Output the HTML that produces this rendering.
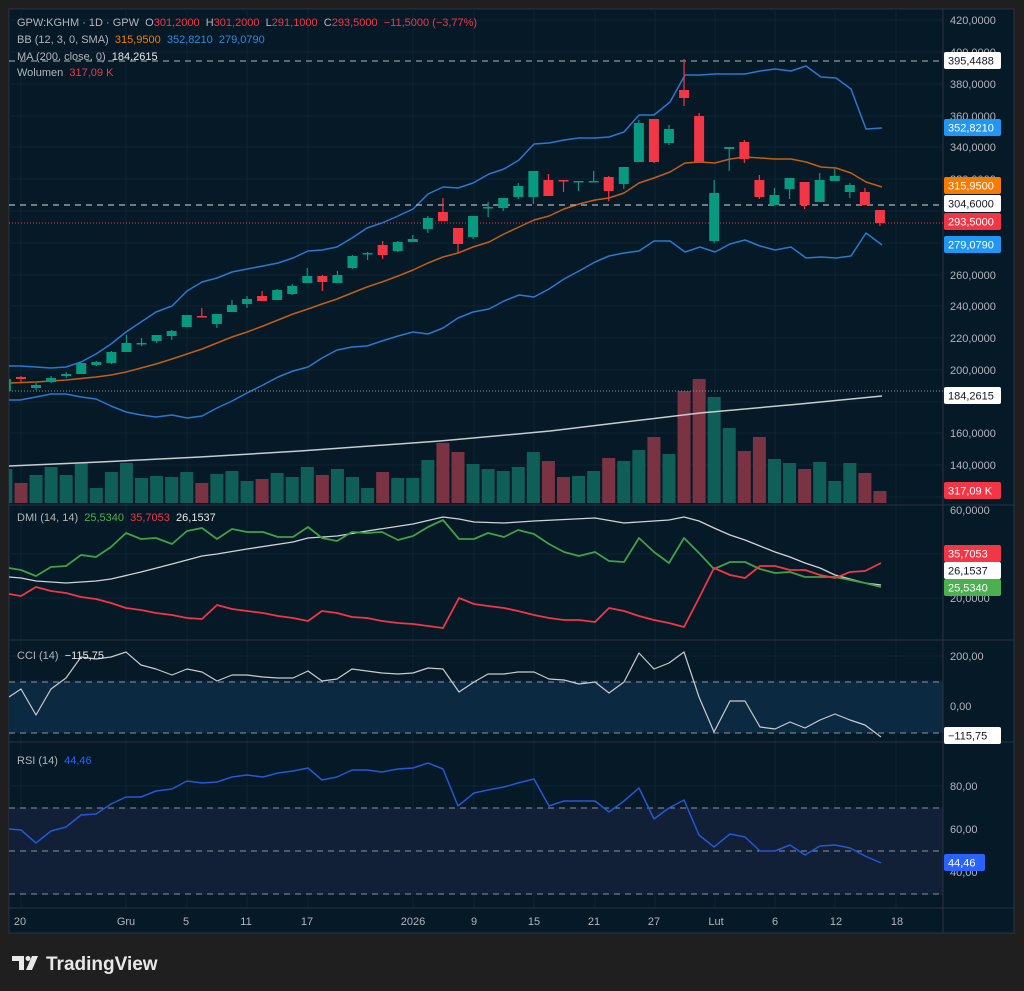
<!DOCTYPE html>
<html><head><meta charset="utf-8">
<style>
html,body{margin:0;padding:0;background:#1f1f1f;width:1024px;height:991px;overflow:hidden}
svg{display:block;font-family:"Liberation Sans",sans-serif}
.lg text{white-space:pre}
</style></head><body>
<svg id="s" width="1024" height="991" viewBox="0 0 1024 991" xmlns="http://www.w3.org/2000/svg">
<defs><clipPath id="cp"><rect x="9" y="9" width="934" height="899"/></clipPath></defs>
<rect x="0" y="0" width="1024" height="991" fill="#1f1f1f"/>
<rect x="9" y="9" width="1005" height="924" fill="#061927" stroke="#2a3440" stroke-width="1"/>
<g id="grid" stroke="#10233340" stroke-width="1"></g>
<rect x="9" y="682" width="934" height="51" fill="#0b2a42"/>
<rect x="9" y="808" width="934" height="86" fill="#111f37"/>
<g stroke="#8a95a0" stroke-dasharray="6,5" stroke-width="1">
<line x1="9" y1="682" x2="943" y2="682"/><line x1="9" y1="733" x2="943" y2="733"/>
<line x1="9" y1="808" x2="943" y2="808"/><line x1="9" y1="851" x2="943" y2="851"/><line x1="9" y1="894" x2="943" y2="894"/>
</g>
<g stroke="#2a3440" stroke-width="1">
<line x1="9" y1="505" x2="1014" y2="505"/><line x1="9" y1="640" x2="1014" y2="640"/>
<line x1="9" y1="742" x2="1014" y2="742"/><line x1="9" y1="908" x2="1014" y2="908"/>
<line x1="943" y1="9" x2="943" y2="933"/>
</g>
<g clip-path="url(#cp)">
<g id="vol"></g>
<polyline fill="none" stroke="#c8cbd0" stroke-width="1.5" points="9,466 100,462 200,457 300,451 440,441 550,431 650,419 700,413 800,404 882,396"/>
<g id="bb"></g>
<line x1="9" y1="61" x2="943" y2="61" stroke="#b0b5bc" stroke-dasharray="6,5"/>
<line x1="9" y1="205" x2="943" y2="205" stroke="#b0b5bc" stroke-dasharray="6,5" stroke-width="1.3"/>
<line x1="9" y1="223" x2="943" y2="223" stroke="#f23645" stroke-dasharray="1,2"/>
<line x1="9" y1="391" x2="943" y2="391" stroke="#8a95a0" stroke-dasharray="1,2"/>
<g id="cd"></g>
<g id="ind"></g>
</g>
<g class="lg" font-size="11" fill="#b2b5be" xml:space="preserve">
<text x="17" y="26">GPW:KGHM · 1D · GPW  O<tspan fill="#f23645">301,2000</tspan>  H<tspan fill="#f23645">301,2000</tspan>  L<tspan fill="#f23645">291,1000</tspan>  C<tspan fill="#f23645">293,5000  −11,5000 (−3,77%)</tspan></text>
<text x="17" y="43">BB (12, 3, 0, SMA)  <tspan fill="#f57c00">315,9500</tspan>  <tspan fill="#2a8ce0">352,8210</tspan>  <tspan fill="#2a8ce0">279,0790</tspan></text>
<text x="17" y="60">MA (200, close, 0)  <tspan fill="#e8e8e8">184,2615</tspan></text>
<text x="17" y="76">Wolumen  <tspan fill="#f23645">317,09 K</tspan></text>
<text x="17" y="521">DMI (14, 14)  <tspan fill="#4caf50">25,5340</tspan>  <tspan fill="#f23645">35,7053</tspan>  <tspan fill="#e8e8e8">26,1537</tspan></text>
<text x="17" y="659">CCI (14)  <tspan fill="#e8e8e8">−115,75</tspan></text>
<text x="17" y="764">RSI (14)  <tspan fill="#2962ff">44,46</tspan></text>
</g>
<g font-size="11" fill="#b2b5be">
<text x="950" y="24">420,0000</text><text x="950" y="56">400,0000</text><text x="950" y="88">380,0000</text>
<text x="950" y="120">360,0000</text><text x="950" y="151">340,0000</text><text x="950" y="183">320,0000</text>
<text x="950" y="279">260,0000</text><text x="950" y="310">240,0000</text><text x="950" y="342">220,0000</text>
<text x="950" y="374">200,0000</text><text x="950" y="437">160,0000</text><text x="950" y="469">140,0000</text>
<text x="950" y="514">60,0000</text><text x="950" y="602">20,0000</text>
<text x="950" y="660">200,00</text><text x="950" y="710">0,00</text>
<text x="950" y="790">80,00</text><text x="950" y="833">60,00</text><text x="950" y="876">40,00</text>
</g>
<g font-size="11">
<rect x="944" y="52" width="57" height="17" rx="2" fill="#ffffff"/><text x="948" y="64.5" fill="#131722">395,4488</text>
<rect x="944" y="119" width="57" height="17" rx="2" fill="#2196f3"/><text x="948" y="131.5" fill="#fff">352,8210</text>
<rect x="944" y="177" width="57" height="17" rx="2" fill="#f57c00"/><text x="948" y="189.5" fill="#fff">315,9500</text>
<rect x="944" y="195" width="57" height="17" rx="2" fill="#ffffff"/><text x="948" y="207.5" fill="#131722">304,6000</text>
<rect x="944" y="213" width="57" height="17" rx="2" fill="#f23645"/><text x="948" y="225.5" fill="#fff">293,5000</text>
<rect x="944" y="236" width="57" height="17" rx="2" fill="#2196f3"/><text x="948" y="248.5" fill="#fff">279,0790</text>
<rect x="944" y="387" width="57" height="17" rx="2" fill="#ffffff"/><text x="948" y="399.5" fill="#131722">184,2615</text>
<rect x="944" y="482" width="57" height="17" rx="2" fill="#f23645"/><text x="948" y="494.5" fill="#fff">317,09 K</text>
<rect x="944" y="545" width="57" height="17" rx="2" fill="#f23645"/><text x="948" y="557.5" fill="#fff">35,7053</text>
<rect x="944" y="562" width="57" height="17" rx="2" fill="#ffffff"/><text x="948" y="574.5" fill="#131722">26,1537</text>
<rect x="944" y="579" width="57" height="17" rx="2" fill="#4caf50"/><text x="948" y="591.5" fill="#fff">25,5340</text>
<rect x="944" y="727" width="57" height="17" rx="2" fill="#ffffff"/><text x="948" y="739.5" fill="#131722">−115,75</text>
<rect x="944" y="854" width="41" height="17" rx="2" fill="#2962ff"/><text x="948" y="866.5" fill="#fff">44,46</text>
</g>
<g font-size="11" fill="#b2b5be" text-anchor="middle">
<text x="20" y="925">20</text><text x="126" y="925">Gru</text><text x="186" y="925">5</text><text x="246" y="925">11</text>
<text x="307" y="925">17</text><text x="413" y="925">2026</text><text x="474" y="925">9</text><text x="534" y="925">15</text>
<text x="594" y="925">21</text><text x="654" y="925">27</text><text x="716" y="925">Lut</text><text x="775" y="925">6</text>
<text x="836" y="925">12</text><text x="897" y="925">18</text>
</g>
<g fill="#e8e8e8">
<path d="M12 956h12v14h-5v-9h-7z"/><circle cx="28" cy="958.5" r="2.5"/><path d="M32 956h6l-6 14h-6z"/>
</g>
<text x="46" y="970" font-size="19" font-weight="bold" fill="#e8e8e8">TradingView</text>
</svg>
<script>
var NS="http://www.w3.org/2000/svg";
function el(p,t,a){var e=document.createElementNS(NS,t);for(var k in a)e.setAttribute(k,a[k]);document.getElementById(p).appendChild(e);return e;}
var gy=[20,52,84,116,147,179,211,243,275,306,338,370,402,433,465,497,554,598,656,681,706,731,786,808,829,851,872,894];
gy.forEach(function(y){el("grid","line",{x1:9,y1:y,x2:943,y2:y,stroke:"#102435"});});
[21,126,187,247,308,413,474,534,595,655,715,775,835,896].forEach(function(x){el("grid","line",{x1:x,y1:9,x2:x,y2:908,stroke:"#102435"});});
var C=[[379,391,377,392,1],[377,379,376,383,0],[385,388,383,390,1],[378,382,376,383,1],[374,376,372,378,1],[363,374,363,374,1],[362,365,361,366,1],[352,363,351,364,1],[343,352,335,352,1],[343,344,338,346,1],[335,341,335,343,1],[331,336,330,340,1],[315,327,315,327,1],[316,317,308,317,0],[314,324,314,328,1],[305,312,300,312,1],[299,304,296,308,1],[296,301,291,301,0],[290,300,289,300,1],[286,294,284,295,1],[276,283,268,283,1],[276,282,275,291,0],[275,283,271,283,1],[256,268,255,269,1],[253,254,252,260,1],[245,255,241,259,0],[242,251,241,252,1],[239,242,235,242,1],[218,229,216,233,1],[212,221,198,221,0],[228,244,228,253,0],[216,237,216,239,1],[207,208,202,217,1],[198,208,198,211,1],[186,197,183,199,1],[171,197,171,204,1],[180,196,174,196,0],[180,181,180,192,0],[181,182,181,191,1],[181,182,171,182,1],[177,191,176,201,0],[167,184,167,189,1],[123,162,120,162,1],[119,162,119,163,0],[129,143,125,145,1],[90,98,59,106,0],[116,162,113,162,0],[193,241,180,243,1],[147,149,147,171,1],[142,159,140,163,0],[180,197,175,199,0],[195,205,188,205,1],[178,189,178,199,1],[182,205,182,209,0],[180,202,173,202,1],[176,181,169,181,1],[185,192,183,198,1],[192,205,188,205,0],[210,223,210,226,0]];
var V=[469,483,475,467,475,463,488,472,463,478,476,477,472,483,474,471,481,479,473,477,467,475,469,477,488,472,478,478,460,443,452,464,469,471,467,452,461,477,476,471,458,461,450,437,454,391,379,397,428,451,437,459,463,469,462,481,463,473,491];
C.forEach(function(c,i){var x=5.9+15.07*i,col=c[4]?"#089981":"#f23645";
 el("vol","rect",{x:x-6.5,y:V[i],width:13,height:503-V[i],fill:c[4]?"#0f5e58":"#7a3343"});
 el("cd","line",{x1:x,y1:c[2],x2:x,y2:c[3],stroke:col,"stroke-width":1.2});
 el("cd","rect",{x:x-5,y:c[0],width:10,height:Math.max(1.5,c[1]-c[0]),fill:col});});
function pl(p,pts,col,w){el(p,"polyline",{points:pts,fill:"none",stroke:col,"stroke-width":w||1.5,"stroke-linejoin":"round"});}
pl("bb","9,366 20,366 36,367 51,368 66,367 81,362 96,354 111,344 126,332 141,322 156,312 172,306 187,291 202,282 217,278 232,272 247,269 263,266 278,263 293,258 308,251 322,250 337,247 352,238 367,228 382,223 398,216 413,209 428,194 443,187 458,188 473,183 489,174 504,169 519,160 534,144 549,143 564,140 579,138 595,138 609,137 624,132 639,115 654,115 670,102 685,75 700,75 715,74 730,74 745,74 760,71 775,69 791,71 806,66 821,77 836,78 851,89 866,129 882,128","#2b78d0");
pl("bb","9,400 20,400 36,397 51,394 66,394 81,397 96,399 111,406 126,412 141,415 156,417 172,415 187,418 202,416 217,408 232,401 247,393 263,385 278,377 293,371 308,367 322,358 337,350 352,347 367,346 382,341 398,336 413,332 428,334 443,328 458,318 473,312 489,309 504,301 519,295 534,297 549,289 564,279 579,271 595,262 609,256 624,253 639,251 654,241 670,241 685,252 700,247 715,252 730,244 745,240 760,246 775,250 791,247 806,258 821,257 836,258 851,256 866,233 882,245","#2b78d0");
pl("bb","9,383 36,382 66,380 96,377 111,375 126,372 141,368 156,364 172,359 187,354 202,349 217,343 232,337 247,332 263,326 278,320 293,314 308,309 322,304 337,299 352,293 367,287 382,282 398,276 413,270 428,263 443,257 458,253 473,247 489,242 504,234 519,227 534,220 549,216 564,209 579,204 595,200 609,198 624,193 639,183 654,178 670,172 685,163 700,162 715,163 730,159 745,157 760,158 775,159 791,159 806,162 821,167 836,168 851,173 866,182 882,187","#c45f12");
pl("ind","9,577 21,578 36,581 66,583 96,581 111,579 141,572 172,564 202,556 217,554 247,549 293,542 308,538 337,536 367,531 413,524 443,517 459,519 474,522 504,523 534,521 595,518 624,523 669,520 684,517 699,521 714,528 730,535 745,540 760,546 775,552 790,557 805,563 820,568 835,575 850,579 865,583 881,585","#d0d3d8",1.3);
pl("ind","9,568 21,570 36,576 51,567 66,566 81,555 96,557 111,547 126,533 141,539 156,538 172,544 187,531 202,528 217,539 232,529 247,532 263,532 278,537 293,537 308,527 322,538 337,541 352,532 367,533 382,532 398,540 413,536 428,527 443,520 459,539 474,539 488,533 504,537 518,530 534,534 549,544 564,552 579,556 595,552 609,561 624,562 639,538 654,552 669,563 684,538 699,553 714,569 730,562 745,562 760,569 775,573 790,572 805,577 820,577 835,577 850,580 865,583 881,587","#43a047",1.8);
pl("ind","9,594 21,596 36,587 51,591 66,593 81,597 96,599 111,603 126,608 141,610 156,613 172,615 187,618 202,619 217,605 232,609 247,611 263,613 278,616 293,618 308,621 322,611 337,613 352,617 367,618 382,621 398,623 413,624 428,626 443,628 459,598 474,604 488,606 504,608 518,611 534,615 549,618 564,620 579,620 595,622 609,608 624,611 639,616 654,620 669,623 684,627 699,598 714,568 730,575 745,578 760,566 775,566 790,570 805,570 820,575 835,578 850,572 865,571 881,563","#f23645",1.8);
pl("ind","9,697 21,689 36,715 51,689 66,678 81,657 96,659 111,657 126,652 141,665 156,669 172,675 187,669 202,672 217,681 232,675 247,675 263,677 278,678 293,678 308,671 322,681 337,679 352,669 367,671 382,673 398,674 413,673 428,668 443,669 459,692 474,682 488,674 504,674 518,672 534,672 549,679 564,680 579,684 595,682 609,693 624,682 639,653 654,669 669,663 684,652 699,697 714,732 730,701 745,701 760,727 775,729 790,722 805,728 820,720 835,714 850,720 865,725 881,737","#c8cbd0",1.2);
pl("ind","9,829 21,830 36,843 51,831 66,827 81,815 96,814 111,804 126,797 141,797 156,791 172,789 187,781 202,783 217,782 232,777 247,775 263,777 278,773 293,771 308,768 322,780 337,777 352,770 367,770 382,772 398,769 413,768 428,763 443,769 458,806 474,793 488,790 504,787 518,783 534,779 549,806 564,801 579,801 595,801 609,812 624,801 639,788 654,819 669,808 684,800 699,835 714,847 730,834 745,837 760,851 775,851 790,845 805,855 820,846 835,845 850,848 865,856 881,863","#2557d6",1.5);
</script>
</body></html>
